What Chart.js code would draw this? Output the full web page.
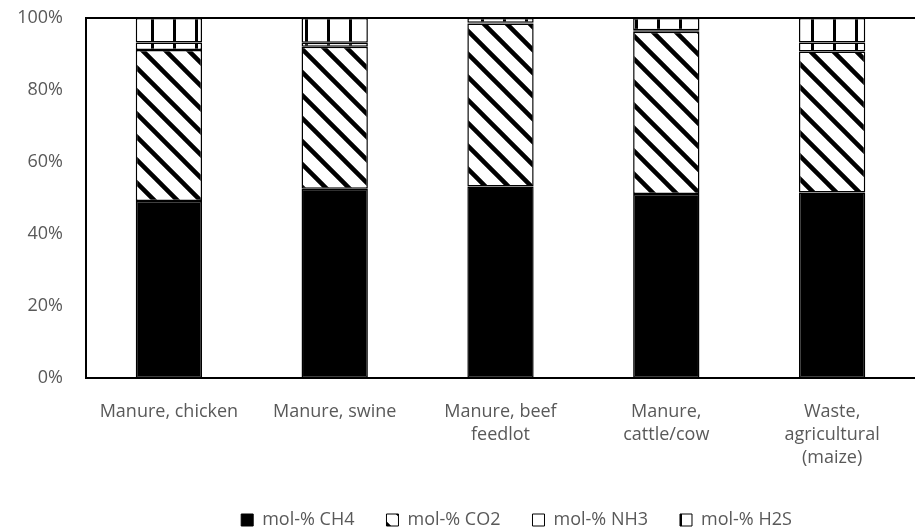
<!DOCTYPE html>
<html>
<head>
<meta charset="utf-8">
<script src="https://cdn.jsdelivr.net/npm/chart.js@4.4.1/dist/chart.umd.min.js"></script>
<style>
  html, body { margin: 0; padding: 0; background: #fff; }
  #wrap { width: 916px; height: 530px; }
</style>
</head>
<body>
<div id="wrap"><canvas id="gasChart"></canvas></div>
<script>
// categories (multi-line as drawn under the axis)
const categories = [
    ['Manure, chicken'],
    ['Manure, swine'],
    ['Manure, beef', 'feedlot'],
    ['Manure,', 'cattle/cow'],
    ['Waste,', 'agricultural', '(maize)']
];

// mol-% values
const ch4 = [49.2, 52.6, 53.2, 51.1, 51.5];
const co2 = [41.9, 39.4, 45.3, 45.1, 39.2];
const nh3 = [2.1, 1.1, 0.2, 0.4, 2.5];
const h2s = [6.8, 6.9, 1.3, 3.4, 6.8];

const yTicks = [0, 20, 40, 60, 80, 100];

const textColor = '#595959';
const fontFamily = '"Open Sans", "Noto Sans", sans-serif';

// hatch "\" for CO2
function diagPattern() {
    const c = document.createElement('canvas');
    c.width = 23; c.height = 23;
    const g = c.getContext('2d');
    g.fillStyle = '#fff';
    g.fillRect(0, 0, 23, 23);
    g.strokeStyle = '#000';
    g.lineWidth = 4.5;
    g.beginPath();
    g.moveTo(-5, -5); g.lineTo(28, 28);
    g.moveTo(-5, 18); g.lineTo(5, 28);
    g.moveTo(18, -5); g.lineTo(28, 5);
    g.stroke();
    return g.createPattern(c, 'repeat');
}

// vertical lines for the upper segments
function vertPattern() {
    const c = document.createElement('canvas');
    c.width = 22; c.height = 10;
    const g = c.getContext('2d');
    g.fillStyle = '#fff';
    g.fillRect(0, 0, 22, 10);
    g.fillStyle = '#000';
    g.fillRect(19, 0, 3, 10);
    return g.createPattern(c, 'repeat');
}

const co2Fill = diagPattern();
const vFill = vertPattern();

// frame round the plot area (top, left, bottom)
const framePlugin = {
    id: 'frame',
    afterLayout(chart) {
        // legend sits centred under the plot, a bit lower than default
        chart.legend.left += 59;
        chart.legend.right += 59;
        chart.legend.top += 9;
        chart.legend.bottom += 9;
    },
    afterDatasetsDraw(chart) {
        const a = chart.chartArea;
        const ctx = chart.ctx;
        ctx.save();
        ctx.strokeStyle = '#000';
        ctx.lineWidth = 2;
        ctx.beginPath();
        ctx.moveTo(a.right, a.top);
        ctx.lineTo(a.left, a.top);
        ctx.lineTo(a.left, a.bottom);
        ctx.lineTo(a.right, a.bottom);
        ctx.stroke();
        ctx.restore();
    }
};

const commonBar = {
    borderColor: '#000',
    borderWidth: 1.5,
    borderSkipped: false,
    barPercentage: 0.4,
    categoryPercentage: 1
};

const ctx = document.getElementById('gasChart').getContext('2d');
const gasChart = new Chart(ctx, {
    type: 'bar',
    data: {
        labels: categories,
        datasets: [
            Object.assign({ label: 'mol-% CH4', data: ch4, backgroundColor: '#000' }, commonBar),
            Object.assign({ label: 'mol-% CO2', data: co2, backgroundColor: co2Fill }, commonBar),
            Object.assign({ label: 'mol-% NH3', data: nh3, backgroundColor: vFill }, commonBar),
            Object.assign({ label: 'mol-% H2S', data: h2s, backgroundColor: vFill }, commonBar)
        ]
    },
    options: {
        responsive: true,
        maintainAspectRatio: false,
        animation: false,
        layout: { padding: { top: 18, right: 1, left: 0, bottom: 0 } },
        plugins: {
            legend: {
                position: 'bottom',
                labels: {
                    color: textColor,
                    font: { family: fontFamily, size: 18 },
                    boxWidth: 12,
                    boxHeight: 12,
                    padding: 32,
                    generateLabels: function(chart) {
                        const items = Chart.defaults.plugins.legend.labels.generateLabels(chart);
                        items.forEach(function(it, i) {
                            it.lineWidth = 1;
                            it.strokeStyle = '#000';
                            if (i === 2) it.fillStyle = '#fff';
                        });
                        return items;
                    }
                }
            },
            tooltip: { enabled: false }
        },
        scales: {
            x: {
                stacked: true,
                grid: { display: false },
                border: { display: false },
                ticks: {
                    color: textColor,
                    font: { family: fontFamily, size: 18, lineHeight: 1.28 },
                    padding: 14,
                    maxRotation: 0,
                    autoSkip: false
                },
                afterFit: function(scale) { scale.height = 92; }
            },
            y: {
                stacked: true,
                min: 0,
                max: 100,
                grid: { display: false, tickLength: 23 },
                border: { display: false },
                afterBuildTicks: function(scale) {
                    scale.ticks = yTicks.map(function(v) { return { value: v }; });
                },
                ticks: {
                    color: textColor,
                    font: { family: fontFamily, size: 18 },
                    padding: 0,
                    callback: function(v) { return v + '%'; }
                },
                afterFit: function(scale) { scale.width = 86; }
            }
        }
    },
    plugins: [framePlugin]
});
</script>
</body>
</html>
